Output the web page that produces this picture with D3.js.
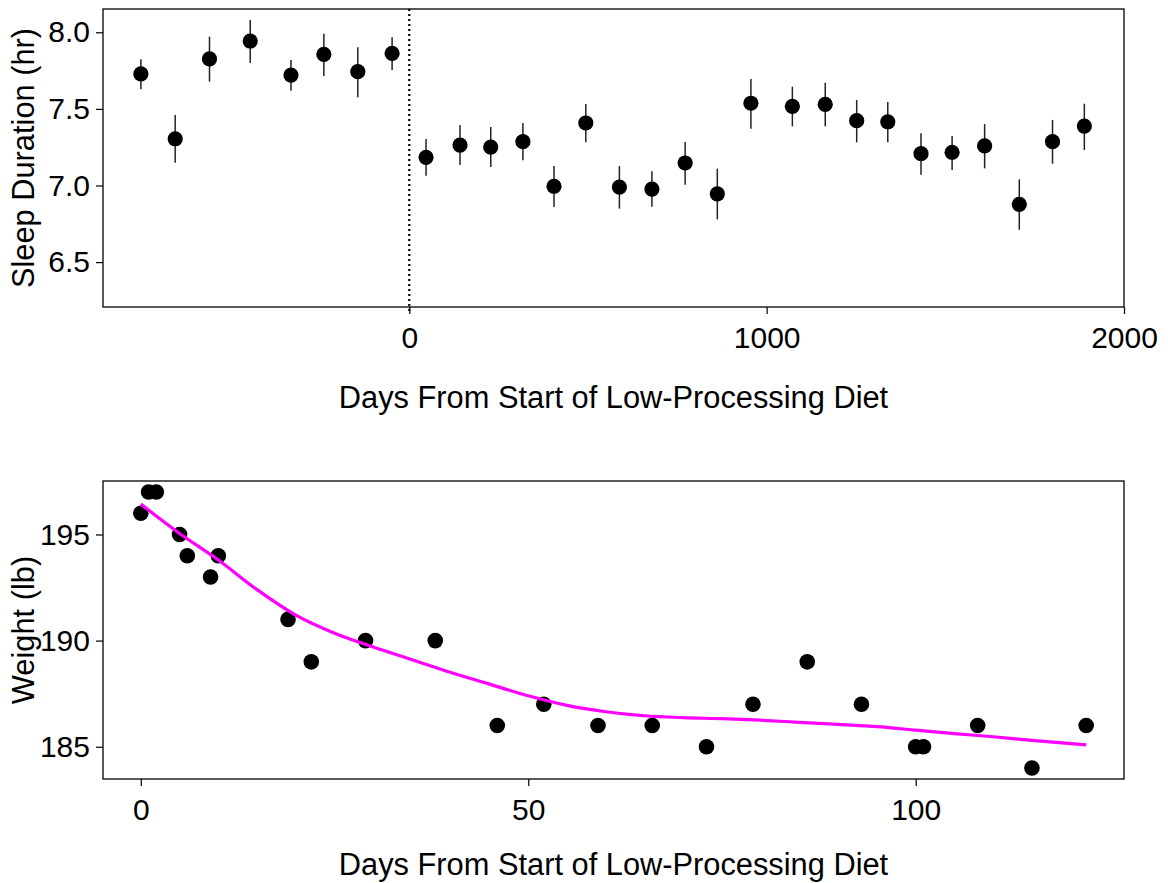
<!DOCTYPE html>
<html>
<head>
<meta charset="utf-8">
<script src="https://cdn.jsdelivr.net/npm/d3@7"></script>
<style>
  html, body { margin: 0; padding: 0; background: #fff; }
  svg text { font-family: "Liberation Sans", Arial, sans-serif; fill: #000; }
</style>
</head>
<body>
<svg id="chart" width="1168" height="883"></svg>
<script>
// ---- Data: sleep duration (top panel) ----
const sleepDays = [-751, -655, -559, -445, -331, -239, -144, -48, 47, 142, 228, 318, 405, 494, 588, 679, 772, 862, 956, 1072, 1164, 1252, 1339, 1432, 1519, 1610, 1707, 1800, 1889];
const sleepMean = [7.728, 7.305, 7.826, 7.943, 7.721, 7.856, 7.743, 7.863, 7.184, 7.264, 7.251, 7.286, 6.995, 7.408, 6.990, 6.977, 7.147, 6.946, 7.537, 7.517, 7.530, 7.423, 7.416, 7.208, 7.217, 7.258, 6.877, 7.286, 7.388];
const sleepLow  = [7.628, 7.149, 7.678, 7.800, 7.619, 7.715, 7.576, 7.754, 7.064, 7.134, 7.121, 7.164, 6.860, 7.282, 6.849, 6.862, 7.005, 6.779, 7.371, 7.386, 7.386, 7.282, 7.282, 7.070, 7.101, 7.112, 6.711, 7.142, 7.232];
const sleepHigh = [7.824, 7.460, 7.971, 8.080, 7.819, 7.991, 7.902, 7.967, 7.304, 7.395, 7.382, 7.408, 7.127, 7.532, 7.127, 7.093, 7.284, 7.110, 7.695, 7.645, 7.671, 7.558, 7.545, 7.341, 7.323, 7.401, 7.040, 7.428, 7.534];
const sleepYTicks = [6.5, 7.0, 7.5, 8.0];
const sleepXTicks = [0, 1000, 2000];

// ---- Data: weight (bottom panel) ----
const weightDays = [0, 1, 2, 5, 6, 9, 10, 19, 22, 29, 38, 46, 52, 59, 66, 73, 79, 86, 93, 100, 101, 108, 115, 122];
const weightLb   = [196, 197, 197, 195, 194, 193, 194, 191, 189, 190, 190, 186, 187, 186, 186, 185, 187, 189, 187, 185, 185, 186, 184, 186];
const smoothDays = [0, 5, 10, 15, 20, 25, 30, 35, 40, 45, 50, 55, 60, 65, 70, 75, 80, 85, 90, 95, 100, 105, 110, 115, 122];
const smoothLb   = [196.43, 195.05, 193.8, 192.4, 191.2, 190.35, 189.7, 189.1, 188.5, 187.95, 187.4, 186.95, 186.65, 186.46, 186.37, 186.32, 186.25, 186.15, 186.05, 185.95, 185.78, 185.62, 185.47, 185.3, 185.09];
const weightYTicks = [185, 190, 195];
const weightXTicks = [0, 50, 100];

const xTitle = "Days From Start of Low-Processing Diet";

const svg = d3.select("#chart");
const FS = 30;     // tick labels
const FT = 30.8;   // axis titles

function panel(cfg) {
  const g = svg.append("g");
  const x = d3.scaleLinear().domain(cfg.xDomain).range([cfg.left, cfg.right]);
  const y = d3.scaleLinear().domain(cfg.yDomain).range([cfg.bottom, cfg.top]);

  const xa = g.append("g").attr("transform", `translate(0,${cfg.bottom})`)
    .call(d3.axisBottom(x).tickValues(cfg.xTicks).tickSize(7).tickPadding(13).tickFormat(d3.format("d")));
  xa.select(".domain").remove();
  xa.selectAll("line").attr("stroke", "#000").attr("stroke-width", 1.2);
  xa.selectAll("text").attr("font-size", FS).attr("font-family", "Liberation Sans, Arial, sans-serif").attr("fill", "#000");

  const ya = g.append("g").attr("transform", `translate(${cfg.left},0)`)
    .call(d3.axisLeft(y).tickValues(cfg.yTicks).tickSize(7).tickPadding(6).tickFormat(cfg.yFormat));
  ya.select(".domain").remove();
  ya.selectAll("line").attr("stroke", "#000").attr("stroke-width", 1.2);
  ya.selectAll("text").attr("font-size", FS).attr("font-family", "Liberation Sans, Arial, sans-serif").attr("fill", "#000");

  g.append("rect").attr("x", cfg.left).attr("y", cfg.top)
    .attr("width", cfg.right - cfg.left).attr("height", cfg.bottom - cfg.top)
    .attr("fill", "none").attr("stroke", "#000").attr("stroke-width", 1.3);

  g.append("text").attr("x", (cfg.left + cfg.right) / 2).attr("y", cfg.xTitleY)
    .attr("text-anchor", "middle").attr("font-size", FT).text(xTitle);
  g.append("text")
    .attr("transform", `translate(34,${(cfg.top + cfg.bottom) / 2}) rotate(-90)`)
    .attr("text-anchor", "middle").attr("font-size", FT).text(cfg.yTitle);

  return { g, x, y };
}

// ---- Top panel ----
const pTop = panel({
  left: 103, right: 1124, top: 9, bottom: 307,
  xDomain: [-857, 2000], yDomain: [6.207, 8.152],
  xTicks: sleepXTicks, yTicks: sleepYTicks, yFormat: d3.format(".1f"),
  xTitleY: 408, yTitle: "Sleep Duration (hr)"
});

pTop.g.append("line")
  .attr("x1", pTop.x(0)).attr("x2", pTop.x(0))
  .attr("y1", 9).attr("y2", 314)
  .attr("stroke", "#000").attr("stroke-width", 2.2)
  .attr("stroke-dasharray", "2,3");

const sleepData = sleepDays.map((d, i) => ({ d, m: sleepMean[i], lo: sleepLow[i], hi: sleepHigh[i] }));
pTop.g.selectAll("line.err").data(sleepData).enter().append("line")
  .attr("class", "err")
  .attr("x1", d => pTop.x(d.d)).attr("x2", d => pTop.x(d.d))
  .attr("y1", d => pTop.y(d.lo)).attr("y2", d => pTop.y(d.hi))
  .attr("stroke", "#222").attr("stroke-width", 1.5);
pTop.g.selectAll("circle.pt").data(sleepData).enter().append("circle")
  .attr("class", "pt")
  .attr("cx", d => pTop.x(d.d)).attr("cy", d => pTop.y(d.m))
  .attr("r", 7.6).attr("fill", "#000");

// ---- Bottom panel ----
const pBot = panel({
  left: 103, right: 1124, top: 481, bottom: 779,
  xDomain: [-4.88, 126.88], yDomain: [183.48, 197.52],
  xTicks: weightXTicks, yTicks: weightYTicks, yFormat: d3.format("d"),
  xTitleY: 875, yTitle: "Weight (lb)"
});

const wData = weightDays.map((d, i) => ({ d, w: weightLb[i] }));
pBot.g.selectAll("circle.pt").data(wData).enter().append("circle")
  .attr("class", "pt")
  .attr("cx", d => pBot.x(d.d)).attr("cy", d => pBot.y(d.w))
  .attr("r", 7.8).attr("fill", "#000");

const sData = smoothDays.map((d, i) => ({ d, w: smoothLb[i] }));
pBot.g.append("path").datum(sData)
  .attr("d", d3.line().x(d => pBot.x(d.d)).y(d => pBot.y(d.w)).curve(d3.curveMonotoneX))
  .attr("fill", "none").attr("stroke", "#ff00ff").attr("stroke-width", 3.2);
</script>
</body>
</html>
